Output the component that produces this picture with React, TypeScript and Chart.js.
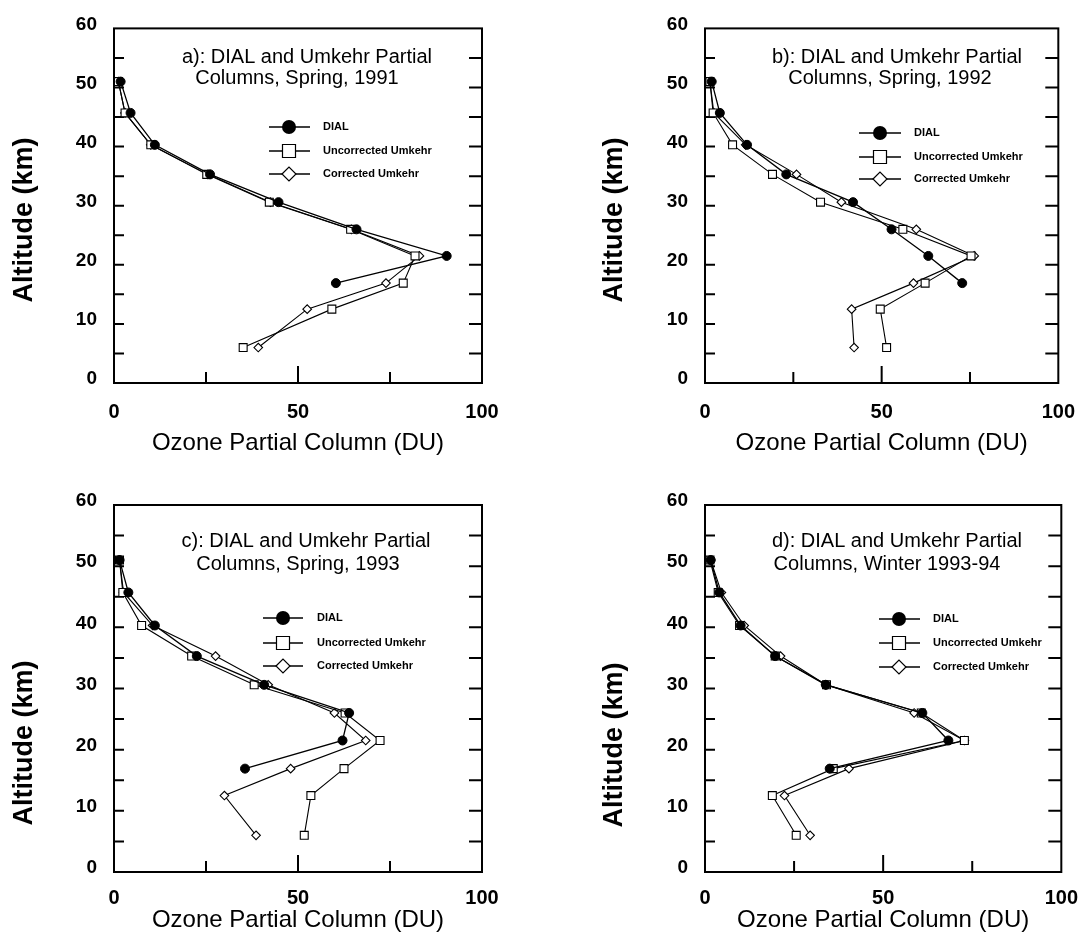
import React, { useEffect, useRef } from 'react';
import { Chart, registerables } from 'chart.js';

Chart.register(...registerables);

// ---------- data ----------
const ALTITUDES = [51, 45.7, 40.3, 35.3, 30.6, 26, 21.5, 16.9, 12.5, 6];
const X_TICKS = [0, 50, 100];
const Y_TICKS = [0, 10, 20, 30, 40, 50, 60];
const X_TICK_MARKS = [25, 50, 75];
const Y_TICK_MARKS = [5, 10, 15, 20, 25, 30, 35, 40, 45, 50, 55];
const SERIES_NAMES = ['DIAL', 'Uncorrected Umkehr', 'Corrected Umkehr'];
const X_TITLE = 'Ozone Partial Column (DU)';
const Y_TITLE = 'Altitude (km)';

const TITLE_A = ['a): DIAL and Umkehr Partial', 'Columns, Spring, 1991'];
const TITLE_B = ['b): DIAL and Umkehr Partial', 'Columns, Spring, 1992'];
const TITLE_C = ['c): DIAL and Umkehr Partial', 'Columns, Spring, 1993'];
const TITLE_D = ['d): DIAL and Umkehr Partial', 'Columns, Winter 1993-94'];

const DIAL_A = [1.8, 4.5, 11.1, 26.1, 44.7, 65.9, 90.4, 60.3];
const UNCORR_A = [1.2, 3.0, 10.0, 25.2, 42.2, 64.3, 81.8, 78.6, 59.2, 35.1];
const CORR_A = [1.2, 3.0, 10.0, 25.5, 42.5, 64.5, 83.0, 73.9, 52.5, 39.2];

const DIAL_B = [1.9, 4.2, 11.9, 23.0, 41.9, 52.8, 63.2, 72.8];
const UNCORR_B = [1.4, 2.3, 7.8, 19.1, 32.7, 56.0, 75.3, 62.3, 49.6, 51.4];
const CORR_B = [1.4, 2.5, 11.5, 25.9, 38.6, 59.8, 76.2, 59.0, 41.5, 42.2];

const DIAL_C = [1.5, 3.9, 11.1, 22.5, 40.8, 63.9, 62.1, 35.6];
const UNCORR_C = [1.5, 2.4, 7.5, 21.1, 38.1, 62.8, 72.3, 62.5, 53.5, 51.7];
const CORR_C = [1.5, 2.6, 10.5, 27.6, 41.9, 59.9, 68.4, 48.0, 30.0, 38.6];

const DIAL_D = [1.6, 4.0, 10.0, 19.7, 33.9, 61.0, 68.3, 35.0];
const UNCORR_D = [1.4, 3.7, 9.7, 19.7, 34.1, 60.7, 72.8, 36.0, 18.9, 25.6];
const CORR_D = [1.6, 4.6, 11.0, 21.2, 33.9, 58.7, 72.8, 40.4, 22.3, 29.5];

// ---------- layout ----------
const FONT = '"Liberation Sans", Arial, Helvetica, sans-serif';

type PanelCfg = {
  left: number; top: number; width: number; height: number;
  area: { left: number; top: number; right: number; bottom: number };
  tickPad: number; titlePadBottom: number;
  yTitle: { x: number; y: number };
  title: string[]; titlePos: { x: number; y: number }[];
  legend: { x0: number; x1: number; mx: number; tx: number; rows: number[] };
  dial: number[]; uncorr: number[]; corr: number[];
};

const PANELS: PanelCfg[] = [
  {
    left: 0, top: 0, width: 546, height: 468,
    area: { left: 114, top: 20, right: 482, bottom: 383 },
    tickPad: 17, titlePadBottom: 10,
    yTitle: { x: 25, y: 220 },
    title: TITLE_A, titlePos: [{ x: 307, y: 57 }, { x: 297, y: 78 }],
    legend: { x0: 269, x1: 310, mx: 289, tx: 323, rows: [127, 151, 174] },
    dial: DIAL_A, uncorr: UNCORR_A, corr: CORR_A,
  },
  {
    left: 546, top: 0, width: 546, height: 468,
    area: { left: 159, top: 20, right: 527, bottom: 383 },
    tickPad: 17, titlePadBottom: 10,
    yTitle: { x: 69, y: 220 },
    title: TITLE_B, titlePos: [{ x: 351, y: 57 }, { x: 344, y: 78 }],
    legend: { x0: 313, x1: 355, mx: 334, tx: 368, rows: [133, 157, 179] },
    dial: DIAL_B, uncorr: UNCORR_B, corr: CORR_B,
  },
  {
    left: 0, top: 468, width: 546, height: 469,
    area: { left: 114, top: 37, right: 482, bottom: 404 },
    tickPad: 14, titlePadBottom: 2,
    yTitle: { x: 25, y: 275 },
    title: TITLE_C, titlePos: [{ x: 306, y: 73 }, { x: 298, y: 96 }],
    legend: { x0: 263, x1: 303, mx: 283, tx: 317, rows: [150, 175, 198] },
    dial: DIAL_C, uncorr: UNCORR_C, corr: CORR_C,
  },
  {
    left: 546, top: 468, width: 546, height: 469,
    area: { left: 159, top: 37, right: 527, bottom: 404 },
    tickPad: 14, titlePadBottom: 2,
    yTitle: { x: 69, y: 277 },
    title: TITLE_D, titlePos: [{ x: 351, y: 73 }, { x: 341, y: 96 }],
    legend: { x0: 333, x1: 374, mx: 353, tx: 387, rows: [151, 175, 199] },
    dial: DIAL_D, uncorr: UNCORR_D, corr: CORR_D,
  },
];

function toPoints(values: number[]) {
  return values.map((v, i) => ({ x: v, y: ALTITUDES[i] }));
}

function drawMarker(ctx: CanvasRenderingContext2D, style: string, x: number, y: number, r: number) {
  ctx.beginPath();
  if (style === 'circle') {
    ctx.arc(x, y, r, 0, Math.PI * 2);
    ctx.fillStyle = '#000';
    ctx.fill();
    return;
  }
  if (style === 'rect') {
    ctx.rect(x - r, y - r, 2 * r, 2 * r);
  } else {
    ctx.moveTo(x - r, y);
    ctx.lineTo(x, y - r);
    ctx.lineTo(x + r, y);
    ctx.lineTo(x, y + r);
    ctx.closePath();
  }
  ctx.fillStyle = '#fff';
  ctx.fill();
  ctx.lineWidth = 1.2;
  ctx.strokeStyle = '#000';
  ctx.stroke();
}

function makePlugin(cfg: PanelCfg) {
  return {
    id: 'frameAndText',
    beforeDatasetsDraw(chart: any) {
      const { ctx, chartArea: a, scales } = chart;
      ctx.save();
      ctx.strokeStyle = '#000';
      ctx.lineWidth = 2;
      ctx.strokeRect(a.left, a.top, a.right - a.left, a.bottom - a.top);
      ctx.beginPath();
      Y_TICK_MARKS.forEach((v) => {
        const y = scales.y.getPixelForValue(v);
        ctx.moveTo(a.left, y);
        ctx.lineTo(a.left + 10, y);
        ctx.moveTo(a.right - 13, y);
        ctx.lineTo(a.right, y);
      });
      X_TICK_MARKS.forEach((v) => {
        const x = scales.x.getPixelForValue(v);
        const len = v === 50 ? 17 : 11;
        ctx.moveTo(x, a.bottom);
        ctx.lineTo(x, a.bottom - len);
      });
      ctx.stroke();
      ctx.restore();
    },
    afterDraw(chart: any) {
      const { ctx } = chart;
      ctx.save();
      // panel title
      ctx.fillStyle = '#000';
      ctx.font = `20px ${FONT}`;
      ctx.textAlign = 'center';
      ctx.textBaseline = 'middle';
      cfg.title.forEach((line, i) => {
        ctx.fillText(line, cfg.titlePos[i].x, cfg.titlePos[i].y);
      });
      // y title
      ctx.save();
      ctx.translate(cfg.yTitle.x, cfg.yTitle.y);
      ctx.rotate(-Math.PI / 2);
      ctx.font = `bold 27px ${FONT}`;
      ctx.fillText(Y_TITLE, 0, 0);
      ctx.restore();
      // legend
      const lg = cfg.legend;
      chart.data.datasets.forEach((ds: any, i: number) => {
        const y = lg.rows[i];
        ctx.beginPath();
        ctx.strokeStyle = '#000';
        ctx.lineWidth = 1.3;
        ctx.moveTo(lg.x0, y);
        ctx.lineTo(lg.x1, y);
        ctx.stroke();
        drawMarker(ctx, ds.pointStyle, lg.mx, y, ds.pointStyle === 'circle' ? 7 : ds.pointStyle === 'rect' ? 6.5 : 7);
        ctx.fillStyle = '#000';
        ctx.font = `bold 11px ${FONT}`;
        ctx.textAlign = 'left';
        ctx.textBaseline = 'middle';
        ctx.fillText(ds.label, lg.tx, y);
      });
      ctx.restore();
    },
  };
}

function Panel({ cfg }: { cfg: PanelCfg }) {
  const ref = useRef<HTMLCanvasElement | null>(null);
  useEffect(() => {
    if (!ref.current) return;
    const a = cfg.area;
    const chart = new Chart(ref.current, {
      type: 'scatter',
      data: {
        datasets: [
          {
            label: SERIES_NAMES[0], data: toPoints(cfg.dial), showLine: true,
            borderColor: '#000', borderWidth: 1.3, pointStyle: 'circle', pointRadius: 4.5,
            pointBackgroundColor: '#000', pointBorderColor: '#000', pointBorderWidth: 1,
          },
          {
            label: SERIES_NAMES[1], data: toPoints(cfg.uncorr), showLine: true,
            borderColor: '#000', borderWidth: 1.1, pointStyle: 'rect', pointRadius: 5.6,
            pointBackgroundColor: '#fff', pointBorderColor: '#000', pointBorderWidth: 1.1,
          },
          {
            label: SERIES_NAMES[2], data: toPoints(cfg.corr), showLine: true,
            borderColor: '#000', borderWidth: 1.1, pointStyle: 'rectRot', pointRadius: 4.3,
            pointBackgroundColor: '#fff', pointBorderColor: '#000', pointBorderWidth: 1.1,
          },
        ],
      },
      options: {
        responsive: false,
        animation: false,
        devicePixelRatio: 1,
        layout: {
          padding: { left: 0, top: a.top, right: cfg.width - a.right, bottom: 0 },
        },
        plugins: { legend: { display: false }, tooltip: { enabled: false } },
        scales: {
          x: {
            type: 'linear', min: 0, max: 100,
            afterBuildTicks: (s: any) => { s.ticks = X_TICKS.map((v) => ({ value: v })); },
            afterFit: (s: any) => { s.height = cfg.height - a.bottom; },
            grid: { display: false, drawTicks: false },
            border: { display: false },
            ticks: {
              padding: cfg.tickPad, maxRotation: 0, color: '#000',
              font: { family: FONT, size: 20, weight: 'bold' },
            },
            title: {
              display: true, text: X_TITLE, color: '#000',
              font: { family: FONT, size: 24 },
              padding: { top: 0, bottom: cfg.titlePadBottom },
            },
          },
          y: {
            type: 'linear', min: 0, max: 60,
            afterBuildTicks: (s: any) => { s.ticks = Y_TICKS.map((v) => ({ value: v })); },
            afterFit: (s: any) => { s.width = a.left; },
            grid: { display: false, drawTicks: false },
            border: { display: false },
            ticks: {
              padding: 17, labelOffset: -4, color: '#000',
              font: { family: FONT, size: 19, weight: 'bold' },
            },
          },
        },
      },
      plugins: [makePlugin(cfg)],
    } as any);
    return () => chart.destroy();
  }, [cfg]);
  return (
    <canvas
      ref={ref}
      width={cfg.width}
      height={cfg.height}
      style={{ position: 'absolute', left: cfg.left, top: cfg.top, width: cfg.width, height: cfg.height }}
    />
  );
}

export default function App() {
  return (
    <div style={{ position: 'absolute', left: 0, top: 0, width: 1092, height: 937, background: '#fff' }}>
      {PANELS.map((p, i) => (
        <Panel key={i} cfg={p} />
      ))}
    </div>
  );
}
